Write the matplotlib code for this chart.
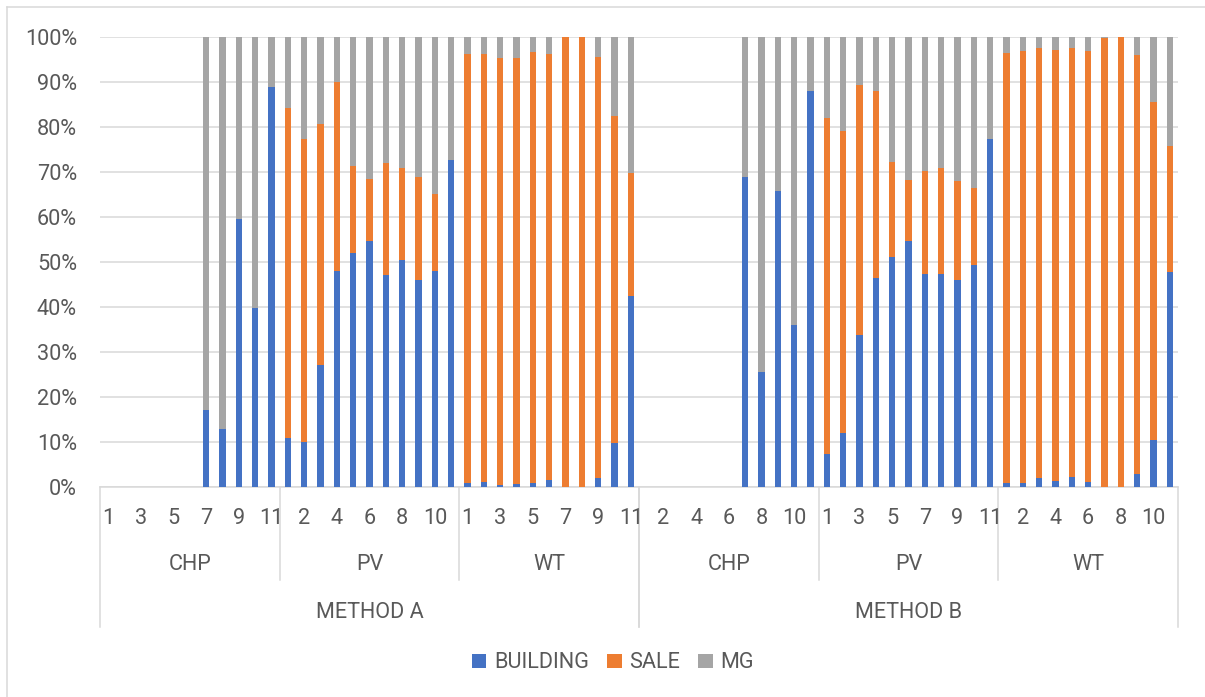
import matplotlib
matplotlib.use("Agg")
import matplotlib.pyplot as plt
from matplotlib.lines import Line2D
from matplotlib.ticker import PercentFormatter
from matplotlib.transforms import offset_copy
import numpy as np

# ---- data (shares in %, per unit) ----
methods = ["METHOD A", "METHOD B"]
techs = ["CHP", "PV", "WT"]
units = list(range(1, 12))

building_a_chp = [0, 0, 0, 0, 0, 0, 17.1, 12.8, 59.6, 39.8, 88.9]
sale_a_chp = [0, 0, 0, 0, 0, 0, 0, 0, 0, 0, 0]
mg_a_chp = [0, 0, 0, 0, 0, 0, 82.9, 87.2, 40.4, 60.2, 11.1]

building_a_pv = [11.0, 9.9, 27.2, 47.9, 51.9, 54.6, 47.2, 50.4, 46.1, 48.1, 72.6]
sale_a_pv = [73.3, 67.5, 53.4, 42.2, 19.5, 13.9, 24.7, 20.4, 22.7, 17.1, 0]
mg_a_pv = [15.7, 22.6, 19.4, 9.9, 28.6, 31.5, 28.1, 29.2, 31.2, 34.8, 27.4]

building_a_wt = [0.9, 1.2, 0.5, 0.7, 0.9, 1.5, 0, 0, 2.0, 9.8, 42.4]
sale_a_wt = [95.4, 95.1, 94.8, 94.6, 95.7, 94.7, 100, 100, 93.5, 72.6, 27.4]
mg_a_wt = [3.7, 3.7, 4.7, 4.7, 3.4, 3.8, 0, 0, 4.5, 17.6, 30.2]

building_b_chp = [0, 0, 0, 0, 0, 0, 68.8, 25.6, 65.7, 35.9, 88.0]
sale_b_chp = [0, 0, 0, 0, 0, 0, 0, 0, 0, 0, 0]
mg_b_chp = [0, 0, 0, 0, 0, 0, 31.2, 74.4, 34.3, 64.1, 12.0]

building_b_pv = [7.4, 12.1, 33.8, 46.5, 51.2, 54.7, 47.3, 47.3, 46.1, 49.3, 77.4]
sale_b_pv = [74.5, 67.1, 55.6, 41.4, 21.0, 13.5, 23.0, 23.5, 22.0, 17.1, 0]
mg_b_pv = [18.1, 20.8, 10.6, 12.1, 27.8, 31.8, 29.7, 29.2, 31.9, 33.6, 22.6]

building_b_wt = [0.9, 1.0, 2.1, 1.4, 2.3, 1.2, 0, 0, 3.0, 10.5, 47.8]
sale_b_wt = [95.6, 95.8, 95.5, 95.7, 95.2, 95.8, 99.7, 100, 93.0, 75.0, 27.9]
mg_b_wt = [3.5, 3.2, 2.4, 2.9, 2.5, 3.0, 0.3, 0, 4.0, 14.5, 24.3]

building = np.array(building_a_chp + building_a_pv + building_a_wt +
                    building_b_chp + building_b_pv + building_b_wt)
sale = np.array(sale_a_chp + sale_a_pv + sale_a_wt +
                sale_b_chp + sale_b_pv + sale_b_wt)
mg = np.array(mg_a_chp + mg_a_pv + mg_a_wt +
              mg_b_chp + mg_b_pv + mg_b_wt)

series_names = ["BUILDING", "SALE", "MG"]
colors = ["#4472C4", "#ED7D31", "#A5A5A5"]
text_color = "#595959"
line_color = "#D9D9D9"

plt.rcParams["font.family"] = ["Roboto", "DejaVu Sans"]
FS = 15.6

W, H = 1205, 697
fig = plt.figure(figsize=(W / 100, H / 100), dpi=100)
left, right, top, bottom = 100, 1178, 37, 487
ax = fig.add_axes([left / W, (H - bottom) / H, (right - left) / W, (bottom - top) / H])

n = len(building)
x = np.arange(n)
bw = 0.4
ax.bar(x, building, bw, color=colors[0], label=series_names[0], zorder=3)
ax.bar(x, sale, bw, bottom=building, color=colors[1], label=series_names[1], zorder=3)
ax.bar(x, mg, bw, bottom=building + sale, color=colors[2], label=series_names[2], zorder=3)

ax.set_xlim(-0.5, n - 0.5)
ax.set_ylim(0, 100)
ax.set_yticks(np.arange(0, 101, 10))
ax.yaxis.set_major_formatter(PercentFormatter(decimals=0))
ax.tick_params(axis="y", length=0, pad=16.5, labelsize=FS, labelcolor=text_color)
ax.set_xticks([])
for s in ax.spines.values():
    s.set_visible(False)
ax.yaxis.grid(True, color=line_color, linewidth=1.1, zorder=0)
ax.set_axisbelow(True)

# category axis line
ax.plot([-0.5, n - 0.5], [0, 0], color=line_color, lw=1.1, clip_on=False, zorder=2)

xtr = ax.get_xaxis_transform()
px = (bottom - top)  # axes height in pixels

def below(dy):
    return offset_copy(xtr, fig=fig, y=-dy, units="dots")

# unit numbers (every other category), tech and method labels
idx = 0
for m in methods:
    m_start = idx
    for t in techs:
        t_start = idx
        for u in units:
            if idx % 2 == 0:
                ax.text(idx, 0, str(u), transform=below(32), ha="center", va="center",
                        fontsize=FS, color=text_color)
            idx += 1
        ax.text((t_start + idx - 1) / 2, 0, t, transform=below(78), ha="center",
                va="center", fontsize=FS, color=text_color)
        # group separator
        if t != techs[-1]:
            ax.plot([idx - 0.5, idx - 0.5], [0, -93 / px], transform=xtr,
                    color=line_color, lw=1.1, clip_on=False)
    ax.text((m_start + idx - 1) / 2, 0, m, transform=below(125), ha="center",
            va="center", fontsize=FS, color=text_color)
    for xe in (m_start - 0.5, idx - 0.5):
        ax.plot([xe, xe], [0, -140 / px], transform=xtr, color=line_color,
                lw=1.1, clip_on=False)

# legend
fig.legend(loc="center", bbox_to_anchor=(613 / W, (H - 663) / H), ncol=3,
           frameon=False, fontsize=FS, handlelength=0.66, handleheight=0.66,
           handletextpad=0.35, columnspacing=0.85, labelcolor=text_color)

# chart area border
fig.add_artist(Line2D([7 / W, 7 / W], [0, 1 - 7 / H], color=line_color, lw=1.1))
fig.add_artist(Line2D([7 / W, 1], [1 - 7 / H, 1 - 7 / H], color=line_color, lw=1.1))

fig.savefig("out.png", dpi=100)
